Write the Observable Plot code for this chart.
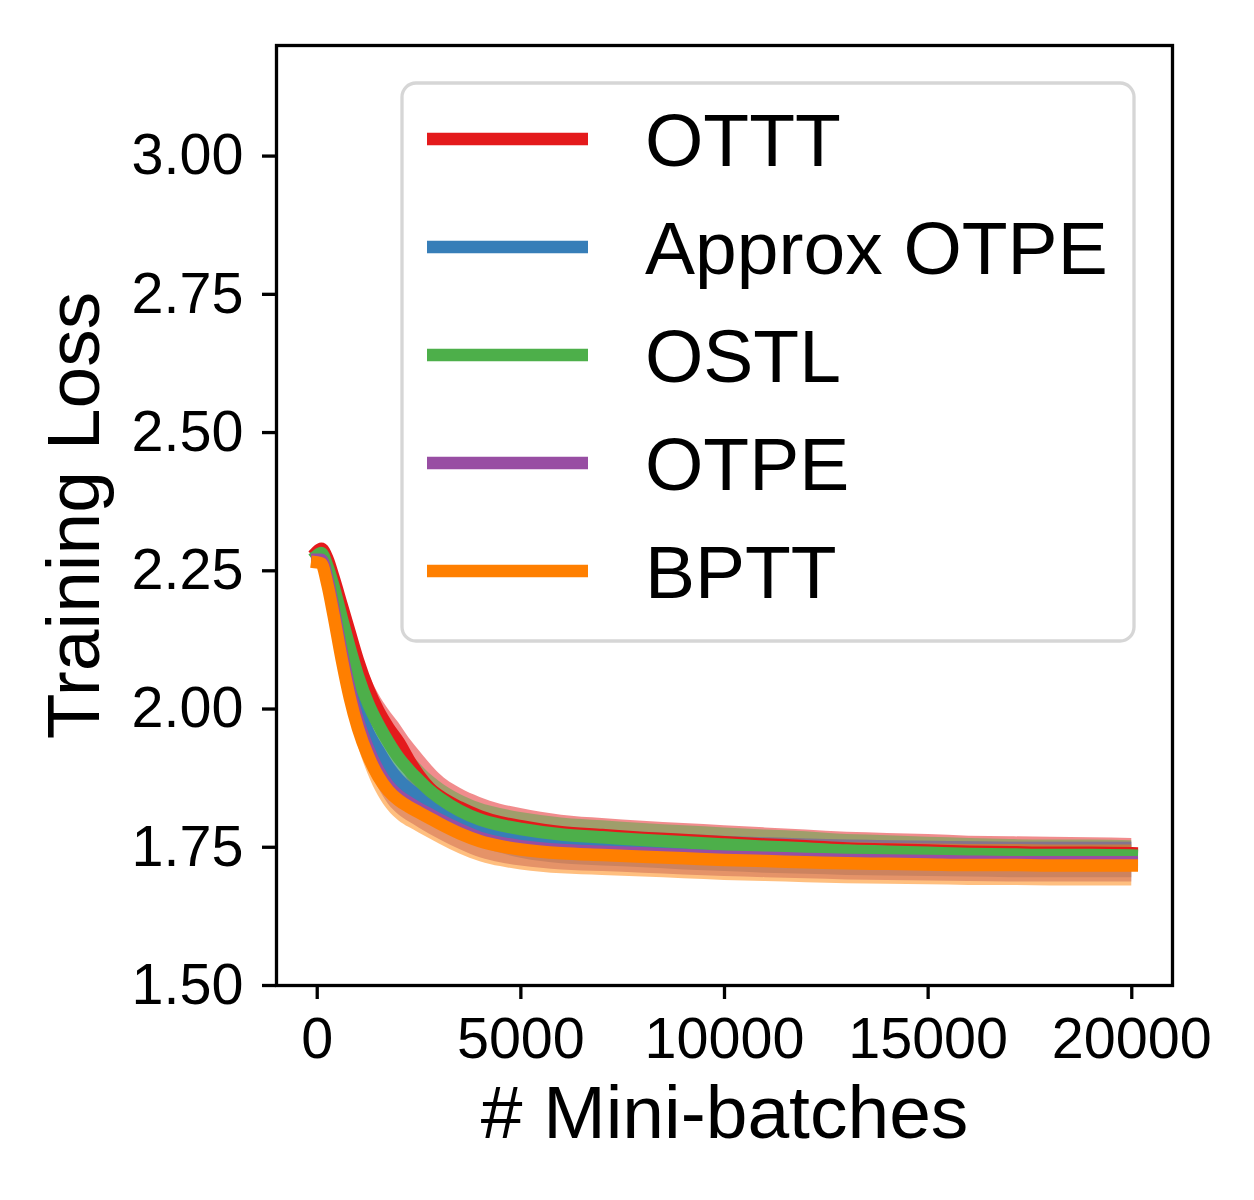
<!DOCTYPE html>
<html>
<head>
<meta charset="utf-8">
<script src="https://cdn.jsdelivr.net/npm/d3@7"></script>
<script src="https://cdn.jsdelivr.net/npm/@observablehq/plot@0.6"></script>
<style>
  html, body { margin: 0; padding: 0; background: #fff; }
  #chart { width: 1254px; height: 1200px; }
</style>
</head>
<body>
<div id="chart"></div>
<script>
// ---- data ----
const methods = ["OTTT", "Approx OTPE", "OSTL", "OTPE", "BPTT"];
const colors  = ["#e41a1c", "#377eb8", "#4daf4a", "#984ea3", "#ff7f00"];

const steps = [0,100,250,400,600,800,1000,1250,1500,1750,2000,2250,2500,2750,3000,3500,4000,4500,5000,6000,7000,8000,9000,10000,11000,12000,13000,14000,15000,16000,17000,18000,19000,20000];

const otttMean   = [2.285,2.290,2.272,2.238,2.188,2.138,2.088,2.037,1.997,1.966,1.940,1.908,1.880,1.858,1.843,1.822,1.806,1.795,1.788,1.777,1.772,1.767,1.763,1.759,1.755,1.752,1.748,1.746,1.744,1.742,1.741,1.740,1.740,1.739];
const approxMean = [2.274,2.275,2.243,2.193,2.120,2.055,2.005,1.958,1.925,1.895,1.872,1.855,1.842,1.830,1.820,1.800,1.783,1.771,1.762,1.752,1.748,1.745,1.741,1.738,1.735,1.733,1.731,1.730,1.729,1.728,1.727,1.727,1.727,1.727];
const ostlMean   = [2.278,2.282,2.258,2.222,2.165,2.110,2.060,2.010,1.972,1.940,1.912,1.890,1.871,1.853,1.839,1.816,1.800,1.790,1.783,1.773,1.768,1.763,1.759,1.755,1.751,1.748,1.744,1.742,1.740,1.738,1.737,1.736,1.736,1.735];
const otpeMean   = [2.270,2.270,2.235,2.181,2.103,2.034,1.979,1.928,1.889,1.861,1.843,1.831,1.820,1.810,1.800,1.782,1.767,1.758,1.752,1.745,1.742,1.739,1.736,1.733,1.731,1.729,1.727,1.726,1.725,1.724,1.723,1.723,1.723,1.723];
const bpttMean   = [2.265,2.263,2.225,2.170,2.090,2.020,1.965,1.915,1.878,1.852,1.835,1.823,1.813,1.803,1.793,1.775,1.761,1.752,1.746,1.739,1.736,1.733,1.730,1.727,1.725,1.723,1.721,1.720,1.719,1.718,1.718,1.717,1.717,1.717];

const otttSd   = [0.004,0.006,0.010,0.014,0.018,0.022,0.026,0.029,0.031,0.033,0.035,0.040,0.045,0.045,0.040,0.035,0.034,0.033,0.032,0.031,0.030,0.030,0.030,0.030,0.030,0.029,0.029,0.029,0.029,0.028,0.028,0.028,0.027,0.027];
const approxSd = [0.004,0.006,0.009,0.012,0.016,0.019,0.022,0.024,0.026,0.028,0.029,0.030,0.031,0.031,0.032,0.032,0.032,0.032,0.032,0.032,0.032,0.032,0.032,0.032,0.032,0.032,0.032,0.032,0.032,0.032,0.032,0.032,0.032,0.032];
const ostlSd   = [0.004,0.006,0.010,0.013,0.017,0.021,0.024,0.027,0.029,0.030,0.031,0.032,0.032,0.031,0.030,0.030,0.030,0.030,0.030,0.030,0.030,0.030,0.030,0.030,0.030,0.030,0.029,0.029,0.028,0.028,0.027,0.027,0.027,0.027];
const otpeSd   = [0.004,0.006,0.010,0.014,0.018,0.022,0.026,0.029,0.031,0.033,0.034,0.035,0.035,0.036,0.036,0.036,0.036,0.036,0.036,0.036,0.036,0.036,0.036,0.036,0.036,0.036,0.036,0.036,0.036,0.036,0.036,0.036,0.036,0.036];
const bpttSd   = [0.004,0.006,0.011,0.016,0.021,0.026,0.030,0.033,0.035,0.036,0.037,0.037,0.037,0.037,0.037,0.037,0.037,0.037,0.037,0.037,0.037,0.037,0.037,0.037,0.037,0.037,0.037,0.037,0.037,0.037,0.037,0.037,0.037,0.037];

const xTicks = [0, 5000, 10000, 15000, 20000];
const yTicks = [1.50, 1.75, 2.00, 2.25, 2.50, 2.75, 3.00];

// ---- build table ----
const means = [otttMean, approxMean, ostlMean, otpeMean, bpttMean];
const sds   = [otttSd, approxSd, ostlSd, otpeSd, bpttSd];
const rows = [];
methods.forEach((m, i) => {
  steps.forEach((s, j) => {
    rows.push({method: m, step: s, loss: means[i][j], lo: means[i][j] - sds[i][j], hi: means[i][j] + sds[i][j]});
  });
});

const FONT = "'Liberation Sans', Arial, Helvetica, sans-serif";

const chart = Plot.plot({
  width: 1254,
  height: 1200,
  marginLeft: 276,
  marginRight: 82,
  marginTop: 45,
  marginBottom: 215,
  style: {fontFamily: FONT, color: "black", background: "white"},
  x: {domain: [-1000, 21000]},
  y: {domain: [1.5, 3.2]},
  color: {domain: methods, range: colors},
  marks: [
    Plot.areaY(rows, {x: "step", y1: "lo", y2: "hi", z: "method", fill: "method", fillOpacity: 0.5, curve: "monotone-x"}),
    Plot.lineY(rows, {x: "step", y: "loss", z: "method", stroke: "method", strokeWidth: 12.5, strokeLinecap: "square", strokeLinejoin: "round", curve: "monotone-x"}),
    Plot.frame({stroke: "black", strokeWidth: 3.3}),
    Plot.axisX({ticks: xTicks, tickFormat: d3.format("d"), tickSize: 14, tickPadding: 18, fontSize: 57.5, strokeWidth: 3.3, label: null}),
    Plot.axisY({ticks: yTicks, tickFormat: d3.format(".2f"), tickSize: 14, tickPadding: 19, fontSize: 57.5, strokeWidth: 3.3, label: null}),
    Plot.text(["Training Loss"], {frameAnchor: "left", dx: -202, rotate: -90, fontSize: 75, textAnchor: "middle", lineAnchor: "middle", fill: "black"}),
    Plot.text(["# Mini-batches"], {frameAnchor: "bottom", dy: 152, fontSize: 75, textAnchor: "middle", lineAnchor: "bottom", fill: "black"})
  ]
});

document.getElementById("chart").appendChild(chart);

// ---- legend inside the axes (upper right) ----
const svg = d3.select(chart);
const lg = svg.append("g").attr("font-family", FONT).attr("text-anchor", "start");
lg.append("rect")
  .attr("x", 402).attr("y", 83).attr("width", 732).attr("height", 558)
  .attr("rx", 14).attr("ry", 14)
  .attr("fill", "white").attr("fill-opacity", 0.8)
  .attr("stroke", "#d6d6d6").attr("stroke-width", 3.3);
methods.forEach((m, i) => {
  const cy = 139 + i * 108;
  lg.append("line")
    .attr("x1", 427).attr("x2", 588).attr("y1", cy).attr("y2", cy)
    .attr("stroke", colors[i]).attr("stroke-width", 12.5);
  lg.append("text")
    .attr("x", 645).attr("y", cy + 26.5)
    .attr("text-anchor", "start")
    .attr("font-size", 75).attr("fill", "black")
    .text(m);
});
</script>
</body>
</html>
